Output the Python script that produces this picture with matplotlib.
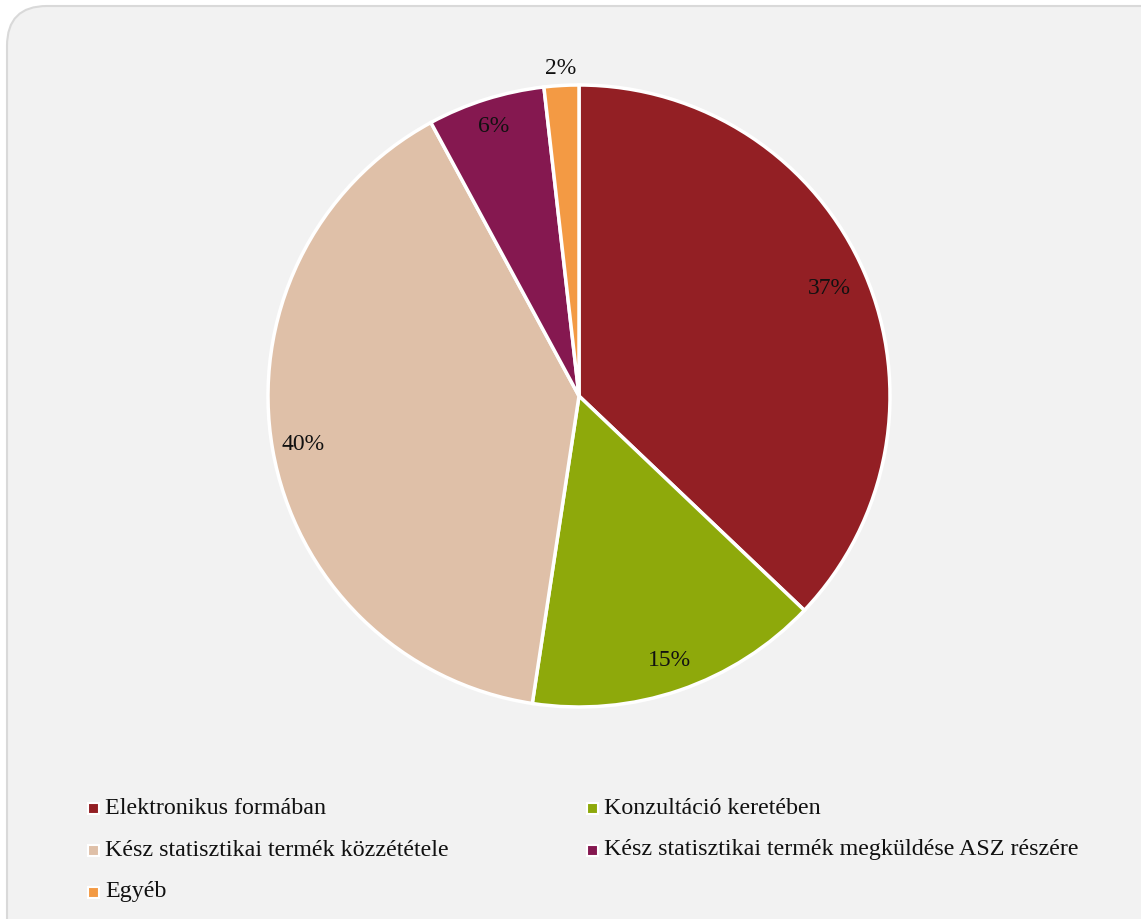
import matplotlib
matplotlib.use("Agg")
import matplotlib.pyplot as plt
import numpy as np
from matplotlib.patches import FancyBboxPatch, Rectangle

categories = ["Elektronikus formában", "Konzultáció keretében",
              "Kész statisztikai termék közzététele",
              "Kész statisztikai termék megküldése ASZ részére", "Egyéb"]
values = [37.1, 15.3, 39.7, 6.1, 1.8]
colors = ["#931f24", "#8ea90b", "#dfc0a8", "#851850", "#f39a44"]

plt.rcParams['font.family'] = ['Liberation Serif', 'DejaVu Serif']

W, H = 1141, 919
fig = plt.figure(figsize=(W / 100, H / 100), dpi=100)
fig.patch.set_facecolor("white")

bg = FancyBboxPatch((7 / W, -0.05), 1.2, 1.05 - 6 / H,
                    boxstyle="round,pad=0,rounding_size=0.035",
                    transform=fig.transFigure, facecolor="#f2f2f2",
                    edgecolor="#d9d9d9", linewidth=1.5, zorder=-5,
                    mutation_aspect=W / H)
fig.patches.append(bg)

cx, cy, r = 579, 396, 311
ax = fig.add_axes([(cx - r) / W, (H - cy - r) / H, 2 * r / W, 2 * r / H])
ax.set_facecolor("none")
wedges, _ = ax.pie(values, colors=colors, startangle=90, counterclock=False,
                   wedgeprops=dict(edgecolor="white", linewidth=2.5))
ax.set_xlim(-1, 1)
ax.set_ylim(-1, 1)
ax.set_aspect("equal")
ax.axis("off")

dists = [0.875, 0.9, 0.9, 0.91, 1.055]
total = sum(values)
for w, v, d in zip(wedges, values, dists):
    ang = np.deg2rad((w.theta1 + w.theta2) / 2)
    ax.text(d * np.cos(ang), d * np.sin(ang), f"{100 * v / total:.0f}%", ha="center",
            va="center", fontsize=17, color="#111111", clip_on=False)

col_x = [93, 592]
row_y = [808, 850, 892]
for i, (lab, c) in enumerate(zip(categories, colors)):
    x = col_x[i % 2]
    y = row_y[i // 2]
    s = 11
    fig.patches.append(Rectangle(((x - s / 2) / W, (H - y - s / 2) / H), s / W, s / H,
                                 transform=fig.transFigure, facecolor=c,
                                 edgecolor="white", linewidth=1.5, zorder=3))
    fig.text((x + 12) / W, (H - y) / H, lab, ha="left", va="center",
             fontsize=17.3, color="#111111")

fig.savefig("out.png", dpi=100)
